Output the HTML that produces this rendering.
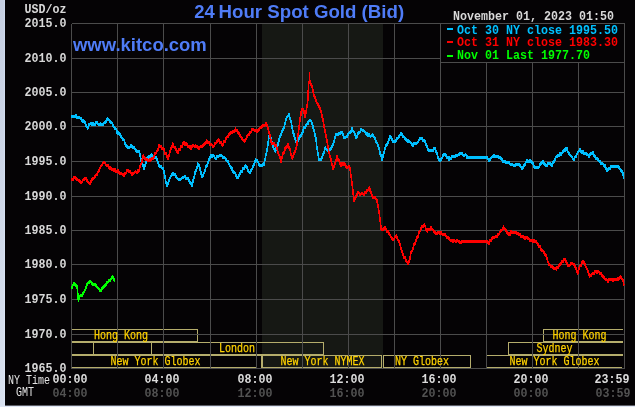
<!DOCTYPE html>
<html lang="en"><head><meta charset="utf-8"><title>24 Hour Spot Gold (Bid)</title>
<style>
html,body{margin:0;padding:0;background:#050305;}
body{width:635px;height:407px;overflow:hidden;}
svg{display:block;}
.m{font-family:"Liberation Mono","DejaVu Sans Mono",monospace;font-weight:bold;font-size:12.0px;}
.s{font-family:"Liberation Mono","DejaVu Sans Mono",monospace;font-weight:normal;font-size:12.0px;stroke-width:0.25px;}
.t{font-family:"Liberation Sans",Arial,Helvetica,sans-serif;font-weight:bold;}
</style></head><body>
<svg width="635" height="407" viewBox="0 0 635 407">
<defs><linearGradient id="lg" x1="0" y1="0" x2="0" y2="1"><stop offset="0" stop-color="#c6cfe2"/><stop offset="1" stop-color="#d9e1ef"/></linearGradient><linearGradient id="lg2" x1="0" y1="0" x2="0" y2="1"><stop offset="0" stop-color="#cdd8ec"/><stop offset="1" stop-color="#dfe8f7"/></linearGradient></defs>
<rect x="0" y="0" width="635" height="407" fill="#050305"/>
<rect x="0" y="0" width="5" height="407" fill="url(#lg)"/>
<rect x="3.8" y="0" width="1.2" height="407" fill="url(#lg2)"/>
<rect x="0" y="405.6" width="635" height="1.4" fill="#dfe6f4"/>
<rect x="262" y="24" width="121" height="344" fill="#161814"/>
<g shape-rendering="crispEdges">
<rect x="71" y="329" width="127" height="1" fill="#b5ad6c"/>
<rect x="71" y="341" width="127" height="1" fill="#b5ad6c"/>
<rect x="197" y="329" width="1" height="13" fill="#b5ad6c"/>
<rect x="543" y="329" width="80" height="1" fill="#b5ad6c"/>
<rect x="543" y="341" width="80" height="1" fill="#b5ad6c"/>
<rect x="543" y="329" width="1" height="13" fill="#b5ad6c"/>
<rect x="71" y="342" width="23" height="1" fill="#b5ad6c"/>
<rect x="71" y="354" width="23" height="1" fill="#b5ad6c"/>
<rect x="93" y="342" width="1" height="13" fill="#b5ad6c"/>
<rect x="93" y="342" width="59" height="1" fill="#b5ad6c"/>
<rect x="93" y="354" width="59" height="1" fill="#b5ad6c"/>
<rect x="151" y="342" width="173" height="1" fill="#b5ad6c"/>
<rect x="151" y="354" width="173" height="1" fill="#b5ad6c"/>
<rect x="151" y="342" width="1" height="13" fill="#b5ad6c"/>
<rect x="323" y="342" width="1" height="13" fill="#b5ad6c"/>
<rect x="508" y="342" width="115" height="1" fill="#b5ad6c"/>
<rect x="508" y="354" width="115" height="1" fill="#b5ad6c"/>
<rect x="508" y="342" width="1" height="13" fill="#b5ad6c"/>
<rect x="71" y="355" width="186" height="1" fill="#b5ad6c"/>
<rect x="71" y="367" width="186" height="1" fill="#b5ad6c"/>
<rect x="261" y="355" width="121" height="1" fill="#b5ad6c"/>
<rect x="261" y="367" width="121" height="1" fill="#b5ad6c"/>
<rect x="261" y="355" width="1" height="13" fill="#b5ad6c"/>
<rect x="381" y="355" width="1" height="13" fill="#b5ad6c"/>
<rect x="262" y="355" width="1" height="13" fill="#b5ad6c"/>
<rect x="256" y="355" width="6" height="1" fill="#b5ad6c"/>
<rect x="383" y="355" width="88" height="1" fill="#b5ad6c"/>
<rect x="383" y="367" width="88" height="1" fill="#b5ad6c"/>
<rect x="383" y="355" width="1" height="13" fill="#b5ad6c"/>
<rect x="470" y="355" width="1" height="13" fill="#b5ad6c"/>
<rect x="486" y="355" width="137" height="1" fill="#b5ad6c"/>
<rect x="486" y="367" width="136" height="1" fill="#b5ad6c"/>
</g>
<path d="M71.5 23.5V368.5M117.5 23.5V368.5M163.5 23.5V368.5M210.5 23.5V368.5M256.5 23.5V368.5M302.5 23.5V368.5M348.5 23.5V368.5M394.5 23.5V368.5M440.5 23.5V368.5M486.5 23.5V368.5M532.5 23.5V368.5M578.5 23.5V368.5M624.5 23.5V368.5M71.5 23.5H624.5M71.5 58.5H624.5M71.5 92.5H624.5M71.5 126.5H624.5M71.5 161.5H624.5M71.5 196.5H624.5M71.5 230.5H624.5M71.5 264.5H624.5M71.5 299.5H624.5M71.5 334.5H624.5M71.5 368.5H624.5" stroke="#4b4b4b" stroke-width="1" fill="none" shape-rendering="crispEdges"/>
<g fill="none" stroke="#00bfff" stroke-width="1.4" stroke-linejoin="round" shape-rendering="crispEdges">
<polyline id="cb" points="71.4,116.0 72.0,116.0 73.0,116.0 74.0,116.0 75.0,116.0 75.8,116.0 76.0,115.2 77.0,117.4 78.0,117.8 79.0,117.0 80.0,118.1 80.7,118.5 81.0,118.7 82.0,120.2 83.0,121.5 84.0,120.8 84.4,122.2 85.0,122.2 86.0,126.1 87.0,127.0 87.6,128.3 88.0,128.2 89.0,124.6 90.0,124.0 91.0,123.8 92.0,124.3 93.0,123.0 94.0,124.6 95.0,124.4 95.5,123.4 96.0,122.4 97.0,122.6 98.0,124.0 99.0,125.2 100.0,124.1 101.0,123.9 102.0,124.6 102.9,125.0 103.0,123.8 104.0,123.0 105.0,122.4 106.0,121.3 107.0,119.5 107.8,119.2 108.0,118.8 109.0,119.9 110.0,121.6 111.0,122.3 112.0,122.8 112.7,124.7 113.0,126.0 114.0,126.8 115.0,128.5 116.0,128.9 117.0,132.3 117.6,132.0 118.0,133.3 119.0,132.8 120.0,134.5 121.0,136.7 122.0,137.8 123.0,139.6 123.7,139.4 124.0,139.9 125.0,143.2 126.0,145.2 127.0,146.6 127.4,148.0 128.0,147.8 129.0,147.8 130.0,147.0 131.0,145.5 132.0,146.5 133.0,147.7 134.0,147.4 135.0,148.9 136.0,150.5 137.0,151.9 138.0,151.6 139.0,151.7 139.7,153.0 140.0,154.6 141.0,159.8 141.7,162.7 142.0,163.8 143.0,165.5 144.0,168.0 144.1,168.4 145.0,165.1 146.0,162.1 147.0,157.8 148.0,157.4 149.0,156.6 150.0,156.4 150.8,156.0 151.0,154.9 152.0,155.1 153.0,156.9 154.0,157.8 155.0,157.1 155.7,157.0 156.0,157.4 157.0,159.1 158.0,162.1 159.0,165.5 159.4,165.2 160.0,166.3 161.0,166.5 162.0,168.1 163.0,168.0 164.0,171.9 165.0,177.0 166.0,182.6 167.0,186.0 168.0,183.5 169.0,180.6 170.0,178.0 171.0,175.8 172.0,174.8 173.0,173.0 174.0,175.1 175.0,173.9 176.0,176.8 177.0,178.0 178.0,179.2 179.0,179.3 180.0,179.5 181.0,179.2 182.0,178.1 183.0,177.8 184.0,177.1 185.0,175.8 185.2,176.8 186.0,178.4 187.0,178.5 188.0,178.4 188.2,179.3 189.0,180.6 190.0,182.2 191.0,183.6 192.0,185.6 193.0,181.0 194.0,177.3 195.0,173.3 195.3,171.7 196.0,170.2 197.0,167.3 198.0,163.8 198.3,164.2 199.0,165.8 200.0,168.8 201.0,172.9 202.0,176.7 202.3,176.8 203.0,175.7 204.0,173.0 205.0,170.5 206.0,166.5 206.6,165.5 207.0,165.5 208.0,163.1 209.0,159.7 210.0,157.5 211.0,155.4 211.6,155.4 212.0,156.3 213.0,155.8 214.0,156.1 215.0,158.1 215.9,158.4 216.0,158.0 217.0,156.6 218.0,156.0 219.0,156.2 220.0,155.4 221.0,155.2 222.0,156.1 223.0,157.8 224.0,157.8 225.0,158.1 226.0,159.2 227.0,160.9 228.0,161.5 229.0,164.1 230.0,165.9 231.0,167.1 231.8,169.2 232.0,168.5 233.0,171.9 234.0,172.3 235.0,173.0 236.0,175.4 237.0,177.3 238.0,178.0 239.0,175.1 240.0,173.3 241.0,171.8 241.9,171.0 242.0,171.4 243.0,168.5 244.0,168.4 245.0,166.8 245.6,165.5 246.0,166.3 247.0,167.1 248.0,170.6 249.0,171.8 250.0,172.7 250.2,173.0 251.0,170.4 252.0,169.1 253.0,166.1 254.0,164.2 255.0,161.2 255.7,160.0 256.0,160.6 257.0,160.3 258.0,162.0 259.0,164.7 260.0,165.5 260.8,165.5 261.0,164.9 262.0,165.8 263.0,164.1 263.8,164.2 264.0,164.4 265.0,159.6 266.0,154.4 267.0,150.3 268.0,143.7 269.0,137.1 269.6,134.7 270.0,137.0 271.0,138.3 272.0,142.8 273.0,146.2 274.0,149.1 275.0,150.7 275.4,151.6 276.0,148.8 277.0,147.2 278.0,144.1 279.0,140.2 279.6,137.7 280.0,136.8 281.0,134.2 282.0,131.8 283.0,129.1 283.8,128.0 284.0,127.7 285.0,123.6 286.0,119.5 286.3,119.2 287.0,116.9 288.0,116.2 288.8,114.2 289.0,114.4 290.0,118.4 291.0,121.5 291.3,123.0 292.0,127.3 293.0,132.2 293.9,135.6 294.0,134.7 295.0,138.1 296.0,141.4 296.4,143.0 297.0,143.2 298.0,141.1 299.0,138.4 300.0,136.4 300.2,136.8 301.0,135.3 302.0,133.3 303.0,131.2 303.9,128.0 304.0,127.5 305.0,127.5 306.0,125.7 307.0,123.9 307.7,123.0 308.0,123.8 309.0,120.8 310.0,120.8 310.2,120.0 311.0,120.8 312.0,123.2 312.7,125.5 313.0,127.7 314.0,130.1 315.0,135.4 315.8,138.0 316.0,139.8 317.0,147.9 317.8,153.2 318.0,153.9 319.0,159.5 320.0,159.5 321.0,159.5 321.6,159.5 322.0,157.8 323.0,154.3 324.0,152.3 325.0,148.3 325.3,147.0 326.0,149.0 327.0,150.2 328.0,149.7 329.0,152.0 329.1,152.0 330.0,149.7 331.0,148.0 331.6,148.2 332.0,145.9 333.0,144.6 334.0,141.1 335.0,138.0 335.9,134.3 336.0,133.9 337.0,134.3 338.0,134.5 339.0,133.3 340.0,133.6 341.0,132.5 341.7,133.0 342.0,132.5 343.0,134.4 344.0,137.4 345.0,138.0 346.0,137.0 347.0,136.7 348.0,134.4 349.0,132.8 349.3,133.0 350.0,132.9 351.0,131.8 352.0,128.7 352.5,129.3 353.0,131.0 354.0,132.0 355.0,134.6 356.0,138.0 357.0,137.2 358.0,133.4 359.0,132.2 360.0,132.2 361.0,129.3 362.0,130.0 363.0,130.1 364.0,131.0 365.0,132.1 366.0,134.1 366.9,134.3 367.0,133.4 368.0,135.5 369.0,134.4 370.0,136.1 371.0,136.1 372.0,134.9 373.0,135.0 373.2,135.6 374.0,137.1 375.0,138.1 376.0,141.4 377.0,143.0 378.0,145.0 379.0,148.0 380.0,153.4 380.3,153.2 381.0,155.3 382.0,159.5 383.0,156.2 384.0,152.3 384.5,150.7 385.0,148.9 386.0,145.6 387.0,144.9 388.0,142.3 389.0,139.6 389.6,136.8 390.0,136.3 391.0,137.5 392.0,139.5 393.0,141.4 394.0,141.4 394.6,141.9 395.0,141.9 396.0,140.7 397.0,138.5 398.0,138.0 399.0,136.3 400.0,135.0 401.0,133.5 401.4,134.0 402.0,134.2 403.0,137.0 404.0,136.8 405.0,138.5 406.0,139.6 406.4,139.7 407.0,141.2 408.0,140.7 409.0,141.3 410.0,142.2 411.0,143.0 412.0,145.1 412.7,144.8 413.0,145.6 414.0,143.8 415.0,143.4 416.0,143.5 416.5,143.2 417.0,142.9 418.0,142.0 419.0,140.1 420.0,138.6 420.8,139.0 421.0,138.5 422.0,138.7 423.0,140.5 424.0,140.0 424.8,141.5 425.0,141.0 426.0,144.8 427.0,146.4 428.0,150.0 428.4,150.3 429.0,150.3 430.0,150.3 431.0,150.3 431.6,150.3 432.0,150.1 433.0,150.7 434.0,148.6 435.0,149.1 435.4,149.0 436.0,151.5 437.0,152.8 438.0,157.9 439.0,159.0 439.2,160.4 440.0,160.2 441.0,159.6 442.0,158.1 443.0,155.8 444.0,154.2 445.0,154.1 446.0,155.3 447.0,157.4 448.0,157.1 449.0,159.7 449.3,159.1 450.0,157.8 451.0,159.1 452.0,156.3 453.0,156.4 454.0,157.2 455.0,156.4 455.6,155.3 456.0,156.1 457.0,155.6 458.0,155.0 459.0,154.5 460.0,152.9 461.0,153.2 461.1,153.3 462.0,153.0 463.0,154.9 464.0,155.4 465.0,154.9 466.0,155.0 466.9,156.6 467.0,157.8 468.0,157.8 469.0,157.6 469.4,157.6 470.0,157.6 471.0,157.6 472.0,157.6 473.0,157.6 474.0,157.6 475.0,157.6 476.0,157.6 477.0,157.6 478.0,157.6 479.0,157.6 480.0,157.6 481.0,157.6 482.0,157.6 483.0,157.6 484.0,157.6 485.0,157.6 486.0,157.6 487.0,157.6 488.0,159.1 488.9,160.3 489.0,161.1 490.0,159.2 491.0,158.2 492.0,157.2 493.0,156.2 493.9,156.0 494.0,154.9 495.0,156.7 496.0,156.4 497.0,157.1 498.0,156.2 498.2,157.3 499.0,157.5 500.0,157.8 501.0,158.5 502.0,159.5 503.0,161.6 504.0,161.6 505.0,161.8 506.0,162.2 507.0,163.1 508.0,162.5 509.0,162.4 510.0,164.0 510.3,164.1 511.0,164.3 512.0,165.0 513.0,164.8 514.0,165.7 514.1,165.3 515.0,165.6 516.0,164.1 517.0,164.4 517.9,164.1 518.0,164.1 519.0,164.4 520.0,165.7 521.0,166.9 522.0,168.5 522.4,167.9 523.0,168.1 524.0,165.2 525.0,164.7 526.0,161.9 527.0,160.6 527.4,161.1 528.0,161.2 529.0,162.2 530.0,160.6 531.0,162.2 531.7,161.6 532.0,163.1 533.0,163.6 534.0,166.5 535.0,167.9 536.0,167.9 537.0,167.9 538.0,167.9 539.0,167.2 540.0,164.6 541.0,163.8 542.0,162.4 542.5,161.1 543.0,161.8 544.0,163.4 545.0,164.5 546.0,165.6 546.8,165.3 547.0,165.3 548.0,163.6 549.0,162.9 549.3,163.3 550.0,163.2 551.0,164.8 551.9,165.3 552.0,165.7 553.0,162.0 554.0,161.5 555.0,159.5 555.6,157.8 556.0,157.1 557.0,156.7 558.0,155.0 559.0,155.5 560.0,153.0 560.7,153.5 561.0,154.4 562.0,153.0 563.0,151.6 564.0,149.8 565.0,150.3 566.0,149.5 566.2,148.2 567.0,148.7 568.0,152.0 569.0,153.9 569.5,154.0 570.0,155.0 571.0,156.2 572.0,156.8 573.0,159.1 573.8,159.0 574.0,159.8 575.0,156.9 576.0,156.5 577.0,154.1 578.0,152.0 579.0,150.9 580.0,149.0 580.1,149.7 581.0,151.5 582.0,152.6 583.0,151.6 584.0,153.7 584.6,154.0 585.0,154.0 586.0,153.7 587.0,154.6 588.0,155.0 588.9,156.0 589.0,156.5 590.0,154.1 591.0,153.9 592.0,153.8 592.7,153.5 593.0,152.7 594.0,155.4 595.0,156.6 596.0,158.3 597.0,158.1 597.2,159.0 598.0,159.4 599.0,161.1 600.0,161.6 601.0,163.3 602.0,164.0 603.0,163.8 604.0,165.3 604.8,165.3 605.0,166.4 606.0,168.2 607.0,170.5 607.3,169.9 608.0,169.4 609.0,168.4 610.0,168.3 611.0,166.6 612.0,166.6 613.0,166.6 614.0,166.6 615.0,166.6 616.0,166.6 617.0,166.6 618.0,166.6 618.6,166.6 619.0,167.9 620.0,168.9 621.0,170.0 621.1,170.4 622.0,171.6 623.0,173.1 623.1,174.2 623.9,178.4"/>
<use href="#cb" transform="translate(0,0.8)"/><use href="#cb" transform="translate(0,-0.8)"/>
</g>
<g fill="none" stroke="#ff0000" stroke-width="1.4" stroke-linejoin="round" shape-rendering="crispEdges">
<polyline id="cr" points="71.4,178.7 72.0,179.7 73.0,179.5 74.0,177.2 75.0,177.1 75.8,178.0 76.0,179.0 77.0,179.5 78.0,180.2 79.0,180.1 80.0,181.7 81.0,182.5 81.2,182.4 82.0,181.9 83.0,180.0 84.0,179.7 85.0,178.7 86.0,178.6 86.1,178.0 87.0,180.6 88.0,182.2 89.0,182.8 89.8,184.0 90.0,183.6 91.0,181.8 92.0,179.8 93.0,178.4 94.0,178.0 95.0,176.3 95.5,176.0 96.0,174.9 97.0,174.5 98.0,172.0 99.0,170.5 100.0,168.1 101.0,165.9 102.0,165.0 103.0,163.0 104.0,162.2 105.0,163.1 106.0,165.2 107.0,165.3 108.0,165.0 109.0,167.6 110.0,168.2 110.2,167.7 111.0,168.7 112.0,169.6 113.0,169.7 114.0,170.2 115.0,169.7 116.0,171.7 117.0,172.1 117.6,171.3 118.0,170.7 119.0,172.8 120.0,173.3 121.0,173.3 122.0,174.0 123.0,174.6 123.7,175.0 124.0,175.7 125.0,173.5 126.0,173.1 127.0,170.7 127.9,170.0 128.0,171.0 129.0,171.9 130.0,171.7 131.0,172.8 132.0,174.5 132.3,173.8 133.0,174.1 134.0,173.1 135.0,172.0 136.0,171.9 137.0,172.4 138.0,170.7 138.5,171.3 139.0,170.8 140.0,166.4 141.0,164.0 142.0,161.4 143.0,156.4 143.4,155.4 144.0,157.5 145.0,158.5 145.9,159.5 146.0,159.5 147.0,159.7 148.0,160.2 149.0,160.2 150.0,159.7 150.8,160.3 151.0,159.3 152.0,158.7 153.0,158.4 154.0,156.4 154.5,155.4 155.0,153.4 156.0,153.1 157.0,150.9 158.0,149.3 159.0,145.6 159.4,145.5 160.0,146.7 161.0,146.0 162.0,148.4 163.0,148.5 163.8,149.8 164.0,149.6 165.0,153.2 166.0,153.4 167.0,156.4 168.0,158.4 169.0,156.1 170.0,151.5 171.0,148.3 172.0,146.8 172.6,144.0 173.0,144.5 174.0,147.0 175.0,147.1 176.0,149.7 177.0,151.0 177.6,152.9 178.0,152.7 179.0,149.7 180.0,150.1 181.0,146.3 182.0,146.4 183.0,143.1 183.9,142.8 184.0,142.3 185.0,144.4 186.0,143.6 187.0,144.5 188.0,146.5 189.0,146.6 190.0,146.5 190.2,147.8 191.0,148.7 192.0,146.3 193.0,145.6 194.0,145.9 195.0,146.2 195.3,145.8 196.0,147.0 197.0,146.3 198.0,147.7 199.0,149.0 200.0,146.8 201.0,146.8 202.0,146.5 203.0,145.4 204.0,144.7 205.0,143.3 206.0,142.5 206.6,141.0 207.0,141.8 208.0,142.2 209.0,142.5 210.0,144.4 211.0,144.5 212.0,144.8 212.9,146.6 213.0,146.4 214.0,146.1 215.0,143.1 216.0,143.0 217.0,141.3 218.0,140.3 218.4,139.8 219.0,139.8 220.0,143.0 221.0,142.7 222.0,144.9 222.5,145.3 223.0,144.3 224.0,141.7 225.0,141.4 226.0,138.8 227.0,137.0 228.0,136.5 229.0,134.4 230.0,133.7 231.0,132.6 232.0,132.9 233.0,131.6 234.0,131.7 235.0,130.6 235.6,129.0 236.0,130.8 237.0,130.3 238.0,132.3 239.0,133.2 240.0,135.5 241.0,137.0 242.0,138.8 243.0,140.0 244.0,140.3 244.4,141.5 245.0,140.4 246.0,139.2 247.0,136.4 248.0,135.0 249.0,134.4 250.0,132.1 251.0,132.1 251.9,130.2 252.0,129.6 253.0,129.5 254.0,129.9 255.0,130.3 256.0,130.5 257.0,131.4 258.0,130.4 259.0,129.3 260.0,127.9 261.0,127.7 262.0,126.4 263.0,124.9 264.0,125.8 265.0,125.1 266.0,123.8 266.3,123.0 267.0,125.2 268.0,128.7 268.8,131.4 269.0,132.5 270.0,135.8 271.0,141.2 271.3,142.8 272.0,143.2 273.0,143.0 274.0,143.3 275.0,145.5 275.9,145.3 276.0,145.3 277.0,148.7 278.0,152.7 279.0,154.9 280.0,157.2 280.9,160.4 281.0,161.3 282.0,157.2 283.0,153.7 284.0,152.6 284.7,150.3 285.0,148.8 286.0,147.4 287.0,146.7 288.0,144.0 289.0,147.9 290.0,149.7 291.0,154.2 292.0,157.6 292.2,158.5 293.0,156.5 294.0,153.3 295.0,151.7 296.0,148.0 296.5,147.8 297.0,143.2 298.0,135.1 298.9,128.0 299.0,128.3 300.0,119.2 301.0,113.8 301.4,110.4 302.0,109.2 303.0,109.4 303.2,109.1 304.0,111.9 305.0,115.9 305.2,116.7 306.0,112.7 307.0,106.2 307.2,105.3 307.9,99.0 308.0,95.8 308.5,85.0 309.0,81.9 309.2,82.0 309.5,73.5 309.8,82.0 310.0,81.3 310.5,83.0 311.0,84.9 311.7,85.5 312.0,86.7 312.6,88.0 313.0,91.5 313.5,93.4 314.0,95.8 314.5,97.2 315.0,97.2 315.9,100.5 316.0,101.0 317.0,102.9 317.8,103.5 318.0,104.5 319.0,106.5 320.0,108.6 321.0,111.3 321.6,112.9 322.0,115.8 323.0,120.1 324.0,126.3 324.1,126.8 325.0,130.8 326.0,136.4 326.6,138.0 327.0,141.0 328.0,147.0 329.0,152.5 329.6,155.1 330.0,156.2 331.0,160.0 332.0,164.6 333.0,168.0 333.1,169.0 334.0,166.0 335.0,163.4 336.0,160.9 337.0,156.9 337.1,156.4 338.0,159.3 339.0,160.0 340.0,163.1 340.2,163.9 341.0,165.3 342.0,163.5 343.0,164.4 344.0,163.8 345.0,164.2 345.2,165.2 346.0,166.6 347.0,167.4 348.0,167.1 349.0,166.4 349.7,167.7 350.0,169.2 351.0,175.6 352.0,182.8 353.0,192.0 354.0,200.4 355.0,198.9 356.0,196.3 357.0,194.5 357.8,192.9 358.0,192.0 359.0,193.2 360.0,194.4 361.0,194.2 362.0,192.8 363.0,194.0 364.0,194.7 364.1,194.2 365.0,192.6 366.0,193.0 367.0,190.8 368.0,190.2 369.0,188.4 369.6,187.9 370.0,190.3 371.0,192.8 372.0,195.3 372.9,197.9 373.0,197.1 374.0,198.1 375.0,197.5 376.0,199.2 376.7,199.2 377.0,201.8 378.0,205.6 379.0,211.9 379.2,213.0 380.0,219.2 381.0,226.9 381.3,229.5 382.0,229.7 383.0,229.7 384.0,228.7 385.0,227.7 386.0,229.0 387.0,231.5 388.0,231.3 388.8,232.8 389.0,233.7 390.0,235.1 391.0,237.0 392.0,238.9 393.0,239.0 393.1,239.8 394.0,238.9 395.0,237.0 396.0,236.2 396.4,235.3 397.0,238.0 398.0,239.9 399.0,241.0 400.0,244.8 400.2,245.4 401.0,248.4 402.0,251.8 403.0,254.3 403.9,256.7 404.0,257.6 405.0,257.3 406.0,261.1 407.0,262.2 408.0,263.4 408.2,263.5 409.0,261.6 410.0,258.0 411.0,252.5 411.5,251.7 412.0,251.2 413.0,248.6 414.0,244.7 415.0,243.5 416.0,240.6 416.5,239.1 417.0,237.2 418.0,236.3 419.0,232.4 420.0,231.1 420.8,229.0 421.0,228.6 422.0,226.8 423.0,226.3 424.0,224.8 424.1,224.7 425.0,225.8 426.0,229.7 427.0,229.7 427.4,231.5 428.0,229.6 429.0,229.6 430.0,229.3 431.0,227.7 431.1,227.2 432.0,229.1 433.0,229.9 434.0,231.7 435.0,232.3 435.9,234.0 436.0,233.4 437.0,233.7 438.0,232.3 439.0,232.2 440.0,233.5 440.5,232.8 441.0,232.2 442.0,234.0 443.0,234.5 444.0,234.0 445.0,235.0 445.5,234.8 446.0,236.1 447.0,237.6 448.0,237.2 449.0,238.6 449.3,239.8 450.0,239.9 451.0,240.5 452.0,240.6 453.0,241.6 454.0,240.1 455.0,241.1 456.0,241.7 456.8,240.3 457.0,240.1 458.0,241.2 459.0,241.4 460.0,242.2 460.1,242.4 461.0,242.8 462.0,241.0 462.6,241.1 463.0,241.1 464.0,241.1 465.0,241.1 466.0,241.1 467.0,241.1 468.0,241.1 469.0,241.1 470.0,241.1 471.0,241.1 472.0,241.1 473.0,241.1 474.0,241.1 475.0,241.1 476.0,241.1 477.0,241.1 478.0,241.1 479.0,241.1 480.0,241.1 481.0,241.1 482.0,241.1 483.0,241.1 484.0,241.1 485.0,241.1 485.8,241.1 486.0,241.6 487.0,241.7 488.0,242.3 488.8,242.6 489.0,243.3 490.0,240.1 491.0,240.6 492.0,238.1 492.7,237.7 493.0,237.9 494.0,237.9 495.0,237.1 496.0,236.1 497.0,236.8 497.7,235.7 498.0,234.3 499.0,234.0 500.0,231.9 501.0,230.7 502.0,229.9 503.0,228.3 503.5,226.8 504.0,227.9 505.0,228.8 506.0,230.3 507.0,232.5 508.0,233.6 508.3,234.7 509.0,233.6 510.0,234.5 511.0,231.7 511.6,232.2 512.0,233.1 513.0,232.3 514.0,232.6 515.0,232.7 516.0,232.4 517.0,233.6 517.9,234.0 518.0,233.3 519.0,234.4 520.0,234.6 521.0,236.5 522.0,237.1 523.0,236.5 524.0,237.4 524.2,237.2 525.0,238.6 526.0,237.7 527.0,237.6 528.0,238.4 529.0,238.8 530.0,240.5 530.5,240.3 531.0,240.1 532.0,240.3 533.0,241.6 534.0,240.4 535.0,242.0 536.0,241.5 537.0,243.2 538.0,244.1 539.0,246.5 540.0,246.7 540.5,247.8 541.0,249.3 542.0,250.7 543.0,250.9 544.0,252.6 545.0,254.4 545.6,254.1 546.0,255.9 547.0,258.8 548.0,262.0 548.6,262.9 549.0,264.4 550.0,265.1 551.0,266.8 551.9,266.7 552.0,266.3 553.0,267.6 554.0,268.3 555.0,268.1 556.0,268.7 556.4,269.2 557.0,267.6 558.0,268.1 559.0,265.3 560.0,264.3 560.7,263.4 561.0,264.0 562.0,261.2 563.0,262.0 564.0,258.9 564.5,259.2 565.0,258.9 566.0,261.4 567.0,263.1 568.0,266.2 568.2,265.5 569.0,265.9 570.0,264.9 571.0,263.4 572.0,262.9 573.0,264.2 574.0,264.6 575.0,267.2 575.3,266.7 576.0,268.5 577.0,271.2 577.6,273.5 578.0,272.6 579.0,268.5 580.0,265.9 580.3,265.5 581.0,265.7 582.0,262.4 583.0,261.3 583.4,261.7 584.0,262.3 585.0,264.5 586.0,267.0 586.4,268.0 587.0,268.9 588.0,271.6 589.0,273.9 589.6,276.0 590.0,275.1 591.0,275.3 592.0,274.0 593.0,273.5 593.4,273.5 594.0,273.8 595.0,271.6 596.0,271.2 597.0,272.4 598.0,271.0 599.0,271.9 600.0,273.8 601.0,273.3 602.0,275.3 602.2,275.5 603.0,277.1 604.0,276.9 605.0,278.9 606.0,279.6 607.0,280.0 607.3,280.6 608.0,281.5 609.0,279.7 610.0,279.5 610.6,279.3 611.0,279.7 612.0,279.2 613.0,280.7 613.6,280.0 614.0,280.1 615.0,279.7 616.0,279.2 617.0,279.9 617.4,278.6 618.0,279.4 619.0,278.5 620.0,277.0 620.6,276.8 621.0,277.2 622.0,279.0 622.7,280.0 623.0,280.3 623.9,285.6"/>
<use href="#cr" transform="translate(0,0.8)"/><use href="#cr" transform="translate(0,-0.8)"/>
</g>
<g fill="none" stroke="#00ff00" stroke-width="1.4" stroke-linejoin="round" shape-rendering="crispEdges">
<polyline id="cg" points="71.7,288.4 72.0,287.3 73.0,285.0 73.6,283.4 74.0,283.6 75.0,284.7 76.0,285.5 76.7,285.9 77.0,287.1 77.6,291.0 78.0,296.1 78.3,301.0 79.0,298.0 79.2,296.6 80.0,295.9 81.0,295.4 81.7,295.4 82.0,295.5 83.0,293.3 84.0,292.1 84.9,290.3 85.0,290.0 86.0,287.4 87.0,284.1 87.4,283.4 88.0,283.1 89.0,282.7 90.0,281.6 90.6,281.1 91.0,282.0 92.0,283.3 93.0,284.0 93.1,284.7 94.0,284.7 95.0,284.7 95.6,284.7 96.0,285.6 97.0,286.8 98.0,287.9 99.0,289.0 100.0,291.0 101.0,290.3 102.0,288.6 103.0,287.7 103.2,287.2 104.0,286.7 105.0,285.3 106.0,284.3 106.3,283.4 107.0,282.6 108.0,282.1 109.0,280.7 109.5,280.3 110.0,280.3 111.0,279.1 112.0,277.1 112.6,276.9 113.0,277.3 114.0,279.5 114.5,280.9"/>
<use href="#cg" transform="translate(0,0.8)"/><use href="#cg" transform="translate(0,-0.8)"/>
</g>
<rect x="440.5" y="23.5" width="184" height="39" fill="#050305" stroke="#4b4b4b" stroke-width="1" shape-rendering="crispEdges"/>
<text class="m" x="453.0" y="20.0" fill="#d8d8d8" textLength="161.0" lengthAdjust="spacingAndGlyphs">November 01, 2023 01:50</text>
<rect x="447" y="28" width="6" height="2" fill="#00c0ff"/>
<text class="m" x="457.0" y="34.0" fill="#00c0ff" textLength="161.0" lengthAdjust="spacingAndGlyphs">Oct 30 NY close 1995.50</text>
<rect x="447" y="41" width="6" height="2" fill="#ff0000"/>
<text class="m" x="457.0" y="46.0" fill="#ff0000" textLength="161.0" lengthAdjust="spacingAndGlyphs">Oct 31 NY close 1983.30</text>
<rect x="447" y="55" width="6" height="2" fill="#00ff00"/>
<text class="m" x="457.0" y="59.0" fill="#00ff00" textLength="133.0" lengthAdjust="spacingAndGlyphs">Nov 01 Last 1977.70</text>
<text class="m" x="24.5" y="13.0" fill="#d8d8d8" textLength="42.0" lengthAdjust="spacingAndGlyphs">USD/oz</text>
<text class="m" x="24.5" y="27.0" fill="#d8d8d8" textLength="42.0" lengthAdjust="spacingAndGlyphs">2015.0</text>
<text class="m" x="24.5" y="62.0" fill="#d8d8d8" textLength="42.0" lengthAdjust="spacingAndGlyphs">2010.0</text>
<text class="m" x="24.5" y="96.0" fill="#d8d8d8" textLength="42.0" lengthAdjust="spacingAndGlyphs">2005.0</text>
<text class="m" x="24.5" y="130.0" fill="#d8d8d8" textLength="42.0" lengthAdjust="spacingAndGlyphs">2000.0</text>
<text class="m" x="24.5" y="165.0" fill="#d8d8d8" textLength="42.0" lengthAdjust="spacingAndGlyphs">1995.0</text>
<text class="m" x="24.5" y="200.0" fill="#d8d8d8" textLength="42.0" lengthAdjust="spacingAndGlyphs">1990.0</text>
<text class="m" x="24.5" y="234.0" fill="#d8d8d8" textLength="42.0" lengthAdjust="spacingAndGlyphs">1985.0</text>
<text class="m" x="24.5" y="268.0" fill="#d8d8d8" textLength="42.0" lengthAdjust="spacingAndGlyphs">1980.0</text>
<text class="m" x="24.5" y="303.0" fill="#d8d8d8" textLength="42.0" lengthAdjust="spacingAndGlyphs">1975.0</text>
<text class="m" x="24.5" y="338.0" fill="#d8d8d8" textLength="42.0" lengthAdjust="spacingAndGlyphs">1970.0</text>
<text class="m" x="24.5" y="372.0" fill="#d8d8d8" textLength="42.0" lengthAdjust="spacingAndGlyphs">1965.0</text>
<text class="m" x="52.5" y="383.0" fill="#dcdcdc" textLength="35.0" lengthAdjust="spacingAndGlyphs">00:00</text>
<text class="m" x="52.5" y="397.0" fill="#525252" textLength="35.0" lengthAdjust="spacingAndGlyphs">04:00</text>
<text class="m" x="144.5" y="383.0" fill="#dcdcdc" textLength="35.0" lengthAdjust="spacingAndGlyphs">04:00</text>
<text class="m" x="144.5" y="397.0" fill="#525252" textLength="35.0" lengthAdjust="spacingAndGlyphs">08:00</text>
<text class="m" x="237.5" y="383.0" fill="#dcdcdc" textLength="35.0" lengthAdjust="spacingAndGlyphs">08:00</text>
<text class="m" x="237.5" y="397.0" fill="#525252" textLength="35.0" lengthAdjust="spacingAndGlyphs">12:00</text>
<text class="m" x="329.5" y="383.0" fill="#dcdcdc" textLength="35.0" lengthAdjust="spacingAndGlyphs">12:00</text>
<text class="m" x="329.5" y="397.0" fill="#525252" textLength="35.0" lengthAdjust="spacingAndGlyphs">16:00</text>
<text class="m" x="421.5" y="383.0" fill="#dcdcdc" textLength="35.0" lengthAdjust="spacingAndGlyphs">16:00</text>
<text class="m" x="421.5" y="397.0" fill="#525252" textLength="35.0" lengthAdjust="spacingAndGlyphs">20:00</text>
<text class="m" x="513.5" y="383.0" fill="#dcdcdc" textLength="35.0" lengthAdjust="spacingAndGlyphs">20:00</text>
<text class="m" x="513.5" y="397.0" fill="#525252" textLength="35.0" lengthAdjust="spacingAndGlyphs">00:00</text>
<text class="m" x="594.5" y="383.0" fill="#dcdcdc" textLength="35.0" lengthAdjust="spacingAndGlyphs">23:59</text>
<text class="m" x="595.5" y="397.0" fill="#525252" textLength="35.0" lengthAdjust="spacingAndGlyphs">03:59</text>
<text class="s" x="8.0" y="384.0" fill="#e4e4e4" textLength="42.0" lengthAdjust="spacingAndGlyphs">NY Time</text>
<text class="s" x="16.0" y="396.0" fill="#e4e4e4" textLength="18.0" lengthAdjust="spacingAndGlyphs">GMT</text>
<text class="s" x="94.0" y="339.0" fill="#ffd200" stroke="#ffd200" textLength="54.0" lengthAdjust="spacingAndGlyphs">Hong Kong</text>
<text class="s" x="219.0" y="352.0" fill="#ffd200" stroke="#ffd200" textLength="36.0" lengthAdjust="spacingAndGlyphs">London</text>
<text class="s" x="110.5" y="365.0" fill="#ffd200" stroke="#ffd200" textLength="90.0" lengthAdjust="spacingAndGlyphs">New York Globex</text>
<text class="s" x="280.5" y="365.0" fill="#ffd200" stroke="#ffd200" textLength="84.0" lengthAdjust="spacingAndGlyphs">New York NYMEX</text>
<text class="s" x="395.0" y="365.0" fill="#ffd200" stroke="#ffd200" textLength="54.0" lengthAdjust="spacingAndGlyphs">NY Globex</text>
<text class="s" x="552.5" y="339.0" fill="#ffd200" stroke="#ffd200" textLength="54.0" lengthAdjust="spacingAndGlyphs">Hong Kong</text>
<text class="s" x="536.5" y="352.0" fill="#ffd200" stroke="#ffd200" textLength="36.0" lengthAdjust="spacingAndGlyphs">Sydney</text>
<text class="s" x="509.5" y="365.0" fill="#ffd200" stroke="#ffd200" textLength="90.0" lengthAdjust="spacingAndGlyphs">New York Globex</text>
<text class="t" y="18.2" font-size="19" fill="#4f7cf7"><tspan x="194.3" textLength="20.5" lengthAdjust="spacingAndGlyphs">24</tspan><tspan> </tspan><tspan x="218.6" textLength="185.5" lengthAdjust="spacingAndGlyphs">Hour Spot Gold (Bid)</tspan></text>
<text class="t" x="73" y="51.2" font-size="19" fill="#4f7cf7" textLength="133.8" lengthAdjust="spacingAndGlyphs">www.kitco.com</text>
</svg></body></html>
